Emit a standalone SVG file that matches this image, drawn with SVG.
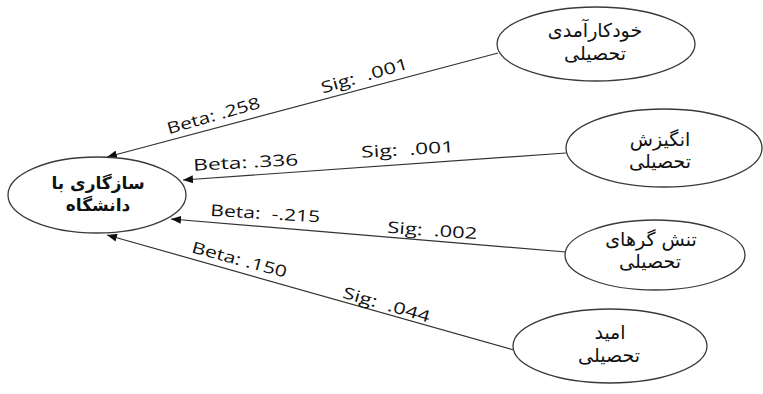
<svg xmlns="http://www.w3.org/2000/svg" width="763" height="394" viewBox="0 0 763 394">
  <style>
    .node ellipse { fill: #ffffff; stroke: #3a3a3a; stroke-width: 1.3; }
    .fa { font-family: "DejaVu Sans", "Noto Sans", sans-serif; font-size: 19px; fill: #111; text-anchor: middle; direction: rtl; }
    .fa-b { font-weight: bold; font-size: 17px; }
    .edge { stroke: #333; stroke-width: 1.2; fill: none; marker-end: url(#arrow); }
    .lbl { font-family: "Open Sans", "Liberation Sans", sans-serif; font-size: 16px; fill: #111; text-anchor: middle; white-space: pre; }
  </style>
  <defs>
    <marker id="arrow" viewBox="0 0 10 8" refX="10" refY="4" markerWidth="10" markerHeight="8" markerUnits="userSpaceOnUse" orient="auto">
      <path d="M0,0 L10,4 L0,8 Z" fill="#111"/>
    </marker>
  </defs>

  <!-- connectors: each predictor points to the outcome node -->
  <g id="connectors">
    <line class="edge" x1="498" y1="53" x2="107" y2="157"/>
    <line class="edge" x1="566" y1="153" x2="183" y2="180"/>
    <line class="edge" x1="566" y1="252" x2="171" y2="219"/>
    <line class="edge" x1="514" y1="350" x2="107" y2="235"/>

    <!-- path coefficients -->
    <text class="lbl" x="215" y="121" textLength="96" lengthAdjust="spacingAndGlyphs" transform="rotate(-16 215 121)">Beta: .258</text>
    <text class="lbl" x="366" y="81" textLength="90" lengthAdjust="spacingAndGlyphs" transform="rotate(-16 366 81)">Sig:  .001</text>

    <text class="lbl" x="246" y="168" textLength="105" lengthAdjust="spacingAndGlyphs" transform="rotate(-3 246 168)">Beta: .336</text>
    <text class="lbl" x="408" y="155" textLength="93" lengthAdjust="spacingAndGlyphs" transform="rotate(-3.5 408 155)">Sig:  .001</text>

    <text class="lbl" x="265" y="219" textLength="110" lengthAdjust="spacingAndGlyphs" transform="rotate(3.5 265 219)">Beta:  -.215</text>
    <text class="lbl" x="432" y="236" textLength="90" lengthAdjust="spacingAndGlyphs" transform="rotate(4 432 236)">Sig:  .002</text>

    <text class="lbl" x="238" y="265" textLength="98" lengthAdjust="spacingAndGlyphs" transform="rotate(15 238 265)">Beta: .150</text>
    <text class="lbl" x="385" y="310" textLength="90" lengthAdjust="spacingAndGlyphs" transform="rotate(16 385 310)">Sig:  .044</text>
  </g>

  <g id="node-adjustment" class="node">
    <ellipse cx="97" cy="195" rx="89" ry="38"/>
    <text class="fa fa-b" x="98" y="189">سازگاری با</text>
    <text class="fa fa-b" x="98" y="211">دانشگاه</text>
  </g>

  <g id="node-self-efficacy" class="node">
    <ellipse cx="596" cy="44" rx="99" ry="37"/>
    <text class="fa" x="595" y="37">خودکارآمدی</text>
    <text class="fa" x="595" y="60">تحصیلی</text>
  </g>

  <g id="node-motivation" class="node">
    <ellipse cx="664" cy="148" rx="98" ry="39"/>
    <text class="fa" x="660" y="146">انگیزش</text>
    <text class="fa" x="660" y="168">تحصیلی</text>
  </g>

  <g id="node-stressors" class="node">
    <ellipse cx="655" cy="255" rx="90" ry="35"/>
    <text class="fa" x="651" y="246">تنش گرهای</text>
    <text class="fa" x="650" y="268">تحصیلی</text>
  </g>

  <g id="node-hope" class="node">
    <ellipse cx="610" cy="346" rx="97" ry="37"/>
    <text class="fa" x="610" y="339">امید</text>
    <text class="fa" x="609" y="362">تحصیلی</text>
  </g>
</svg>
